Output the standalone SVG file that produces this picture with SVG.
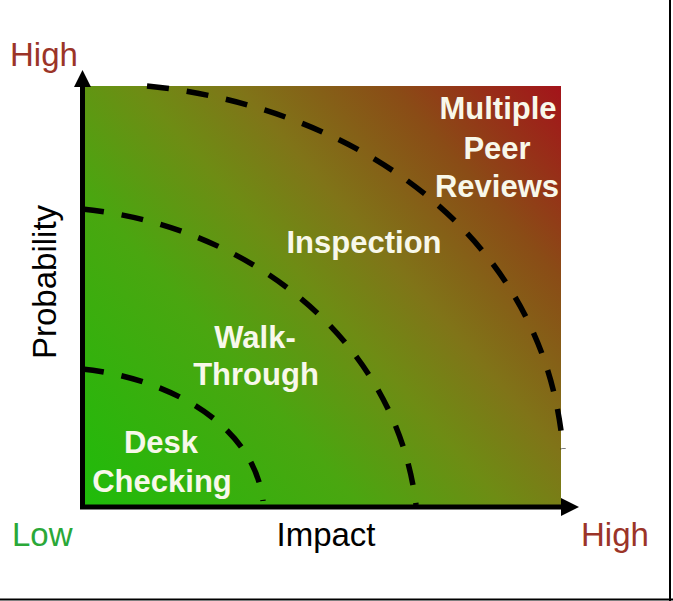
<svg xmlns="http://www.w3.org/2000/svg" width="673" height="601" viewBox="0 0 673 601">
<defs>
<linearGradient id="bg" gradientUnits="userSpaceOnUse" x1="82" y1="507" x2="561" y2="87">
<stop offset="0" stop-color="#1ebc0a"/>
<stop offset="0.33" stop-color="#4aa610"/>
<stop offset="0.5" stop-color="#6e8c14"/>
<stop offset="0.62" stop-color="#807418"/>
<stop offset="0.8" stop-color="#8a4c16"/>
<stop offset="1" stop-color="#a3141a"/>
</linearGradient>
<style>
.arc{fill:none;stroke:#000;stroke-width:5.5;stroke-dasharray:22 18}
.axis{stroke:#000;stroke-width:5;fill:none}
.head{fill:#000}
.in{font-family:"Liberation Sans",Arial,sans-serif;font-weight:bold;font-size:31px;fill:#f8f8ea;text-anchor:middle}
.ax{font-family:"Liberation Sans",Arial,sans-serif;font-size:33px}
.hi{fill:#9b3428}
.lo{fill:#2aa838}
</style>
</defs>
<rect width="673" height="601" fill="#fff"/>
<g id="frame">
<line x1="670" y1="0" x2="670" y2="601" stroke="#000" stroke-width="2"/>
<line x1="0" y1="599.5" x2="673" y2="599.5" stroke="#000" stroke-width="2"/>
</g>
<g id="chart-area">
<rect x="82" y="86" width="479" height="421" fill="url(#bg)"/>
</g>
<g id="zones">
<path id="arc-desk" class="arc" d="M82,369 C162,377 253.4,421 263,501"/>
<path id="arc-walk" class="arc" d="M82,209 C248,225.6 396.1,339 416,505"/>
<path id="arc-insp" class="arc" d="M147,86 C357,107 545.2,237 563,449"/>
</g>
<g id="connectors">
<path class="axis" d="M82.5,84 V507 H563"/>
<polygon class="head" points="82.5,70 74,87 91,87"/>
<polygon class="head" points="579,507 561,498 561,516"/>
</g>
<g id="node-desk">
<text class="in" x="161" y="453">Desk</text>
<text class="in" x="162" y="492">Checking</text>
</g>
<g id="node-walk">
<text class="in" x="255" y="348">Walk-</text>
<text class="in" x="256" y="385">Through</text>
</g>
<g id="node-insp">
<text class="in" x="364" y="253">Inspection</text>
</g>
<g id="node-multi">
<text class="in" x="498" y="119" font-size="32">Multiple</text>
<text class="in" x="497" y="159">Peer</text>
<text class="in" x="497" y="197">Reviews</text>
</g>
<g id="labels">
<text class="ax hi" x="10" y="66">High</text>
<text class="ax lo" x="12" y="546">Low</text>
<text class="ax" x="326" y="546" text-anchor="middle" fill="#000">Impact</text>
<text class="ax hi" x="581" y="546">High</text>
<text class="ax" transform="translate(56,282) rotate(-90)" text-anchor="middle" font-size="34" fill="#000">Probability</text>
</g>
</svg>
